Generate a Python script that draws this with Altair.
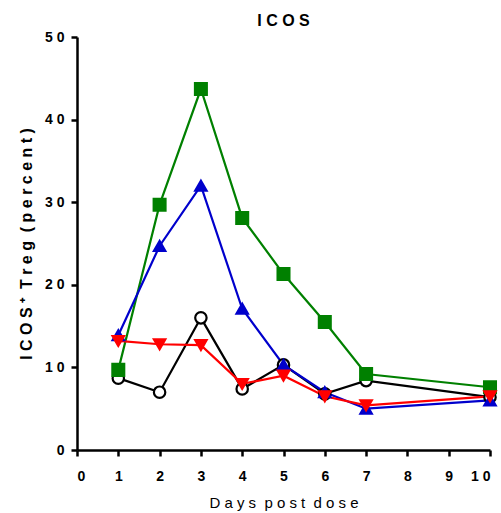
import altair as alt
import pandas as pd

days = [1, 2, 3, 4, 5, 6, 7, 10]
black_circle = [8.7, 7.0, 16.0, 7.4, 10.3, 6.8, 8.4, 6.4]
green_square = [9.7, 29.7, 43.7, 28.1, 21.3, 15.5, 9.2, 7.6]
blue_triangle = [13.9, 24.7, 32.0, 17.1, 10.3, 7.0, 5.0, 6.0]
red_down = [13.2, 12.8, 12.7, 8.0, 9.0, 6.5, 5.4, 6.5]

x_ticks = [0, 1, 2, 3, 4, 5, 6, 7, 8, 9, 10]
y_ticks = [0, 10, 20, 30, 40, 50]

series = [
    ("black", black_circle, "circle", "black", "white", 130),
    ("green", green_square, "square", "#008000", "#008000", 140),
    ("blue", blue_triangle, "triangle-up", "#0000CC", "#0000CC", 130),
    ("red", red_down, "triangle-down", "#FF0000", "#FF0000", 130),
]

FONT = "Liberation Sans"
NB = "\u00a0"


def spread(s):
    out = []
    for ch in s:
        out.append("" if ch == " " else ch)
    return NB.join(out)


tick_expr = "join(split(datum.label, ''), '\u00a0')"

x_enc = alt.X("day:Q", scale=alt.Scale(domain=[0, 10], nice=False),
              axis=alt.Axis(values=x_ticks, title=spread("Days post dose"),
                            grid=False, labelExpr=tick_expr, domainWidth=2.5,
                            tickWidth=2.5, tickSize=6, labelPadding=13,
                            titlePadding=12, titleFontWeight="normal",
                            titleFontSize=15))
y_enc = alt.Y("val:Q", scale=alt.Scale(domain=[0, 50], nice=False),
              axis=alt.Axis(values=y_ticks, title=spread("ICOS\u207a Treg (percent)"),
                            grid=False, labelExpr=tick_expr, domainWidth=2.5,
                            tickWidth=2.5, tickSize=6, labelPadding=7,
                            titlePadding=10, titleFontSize=16))

layers = []
for name, vals, shape, col, fill, size in series:
    df = pd.DataFrame({"day": days, "val": vals})
    base = alt.Chart(df).encode(x=x_enc, y=y_enc)
    layers.append(base.mark_line(color=col, strokeWidth=2.2))
for name, vals, shape, col, fill, size in series:
    df = pd.DataFrame({"day": days, "val": vals})
    base = alt.Chart(df).encode(x=x_enc, y=y_enc)
    layers.append(base.mark_point(shape=shape, size=size, filled=True, fill=fill,
                                  stroke=col, strokeWidth=2.2, opacity=1))

chart = alt.layer(*layers).properties(
    width=413, height=413,
    title=alt.TitleParams(spread("ICOS"), font=FONT, fontSize=16, fontWeight="bold",
                          anchor="middle", offset=1),
    autosize=alt.AutoSizeParams(type="none"),
    padding={"left": 77, "top": 37, "right": 11, "bottom": 63},
).configure_view(stroke=None).configure_axis(
    labelFont=FONT, titleFont=FONT, labelFontSize=14, labelFontWeight="bold",
    titleFontWeight="bold", labelColor="black", titleColor="black",
    domainColor="black", tickColor="black",
)

chart.save("out.html", embed_options={"renderer": "svg", "actions": False})
